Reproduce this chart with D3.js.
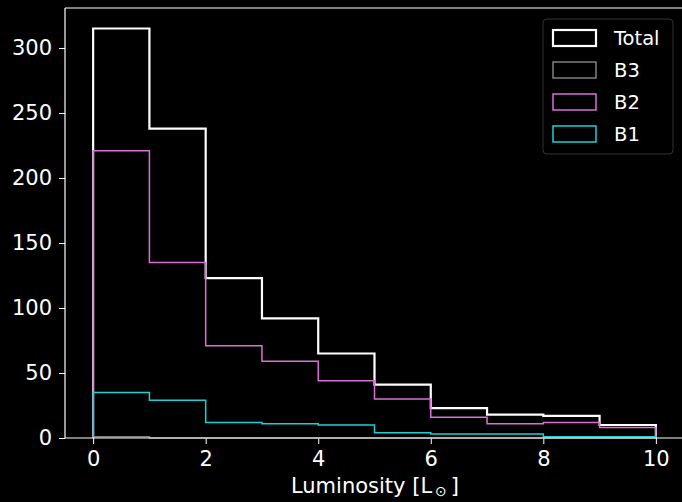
<!DOCTYPE html>
<html>
<head>
<meta charset="utf-8">
<script src="https://cdn.jsdelivr.net/npm/d3@7"></script>
<style>
  html, body { margin: 0; padding: 0; background: #000; }
  svg { display: block; font-family: "DejaVu Sans", sans-serif; }
</style>
</head>
<body>
<svg id="chart" width="682" height="502"></svg>
<script>
// ---- data ----
const binEdges = [0, 1, 2, 3, 4, 5, 6, 7, 8, 9, 10];
const totalCounts = [315, 238, 123, 92, 65, 41, 23, 18, 17, 10];
const b3Counts = [1, 0, 0, 0, 0, 0, 0, 0, 0, 0];
const b2Counts = [221, 135, 71, 59, 44, 30, 16, 11, 12, 8];
const b1Counts = [35, 29, 12, 11, 10, 4, 3, 3, 1, 1];
const seriesNames = ["Total", "B3", "B2", "B1"];
const seriesColors = ["#ffffff", "#808080", "#da70d6", "#1ecfd6"];
const seriesWidths = [2.2, 1.5, 1.5, 1.5];
const xTicks = [0, 2, 4, 6, 8, 10];
const yTicks = [0, 50, 100, 150, 200, 250, 300];

const seriesData = [totalCounts, b3Counts, b2Counts, b1Counts];

const svg = d3.select("#chart");
svg.append("rect").attr("width", 682).attr("height", 502).attr("fill", "#000");

const x = d3.scaleLinear().domain([-0.5, 10.5]).range([65, 684]);
const y = d3.scaleLinear().domain([0, 330.75]).range([438, 8]);

// axes
const fs = 21;
const xAxis = d3.axisBottom(x).tickValues(xTicks).tickSize(6).tickPadding(7).tickFormat(d3.format("d"));
const yAxis = d3.axisLeft(y).tickValues(yTicks).tickSize(6).tickPadding(7).tickFormat(d3.format("d"));

const gx = svg.append("g").attr("transform", `translate(0,${y(0)})`).call(xAxis);
const gy = svg.append("g").attr("transform", `translate(${x(-0.5)},0)`).call(yAxis);
[gx, gy].forEach(g => {
  g.select(".domain").remove();
  g.selectAll(".tick line").attr("stroke", "#fff").attr("stroke-width", 1);
  g.selectAll(".tick text").attr("fill", "#fff").attr("font-size", fs).attr("font-family", "DejaVu Sans");
});

// histogram step paths
function stepPoints(counts) {
  const pts = [[binEdges[0], 0]];
  counts.forEach((c, i) => {
    pts.push([binEdges[i], c]);
    pts.push([binEdges[i + 1], c]);
  });
  pts.push([binEdges[binEdges.length - 1], 0]);
  return pts;
}
const line = d3.line().x(d => x(d[0])).y(d => y(d[1]));
seriesData.forEach((counts, i) => {
  svg.append("path")
    .attr("d", line(stepPoints(counts)))
    .attr("fill", "none")
    .attr("stroke", seriesColors[i])
    .attr("stroke-width", seriesWidths[i])
    .attr("stroke-linejoin", "miter");
});

// spines
const spine = svg.append("g").attr("stroke", "#fff").attr("stroke-width", 1.2).attr("fill", "none");
spine.append("line").attr("x1", x(-0.5)).attr("x2", x(10.5)).attr("y1", y(0)).attr("y2", y(0));
spine.append("line").attr("x1", x(-0.5)).attr("x2", x(10.5)).attr("y1", y(330.75)).attr("y2", y(330.75));
spine.append("line").attr("x1", x(-0.5)).attr("x2", x(-0.5)).attr("y1", y(0)).attr("y2", y(330.75));

// x label
const xl = svg.append("text")
  .attr("x", 375).attr("y", 493)
  .attr("text-anchor", "middle")
  .attr("fill", "#fff").attr("font-size", fs);
xl.append("tspan").text("Luminosity [L");
xl.append("tspan").attr("font-size", 14).attr("dy", 3).attr("dx", 3).text("\u2299");
xl.append("tspan").attr("dy", -3).attr("dx", 4).text("]");

// legend
const lg = svg.append("g");
lg.append("rect").attr("x", 543).attr("y", 19).attr("width", 130).attr("height", 135)
  .attr("rx", 4).attr("fill", "#000").attr("stroke", "#333").attr("stroke-width", 1);
seriesNames.forEach((name, i) => {
  const cy = 38 + i * 32;
  lg.append("rect").attr("x", 553).attr("y", cy - 8).attr("width", 43).attr("height", 16)
    .attr("fill", "none").attr("stroke", seriesColors[i]).attr("stroke-width", seriesWidths[i]);
  lg.append("text").attr("x", 614).attr("y", cy + 7)
    .attr("fill", "#fff").attr("font-size", 19.5).text(name);
});
</script>
</body>
</html>
